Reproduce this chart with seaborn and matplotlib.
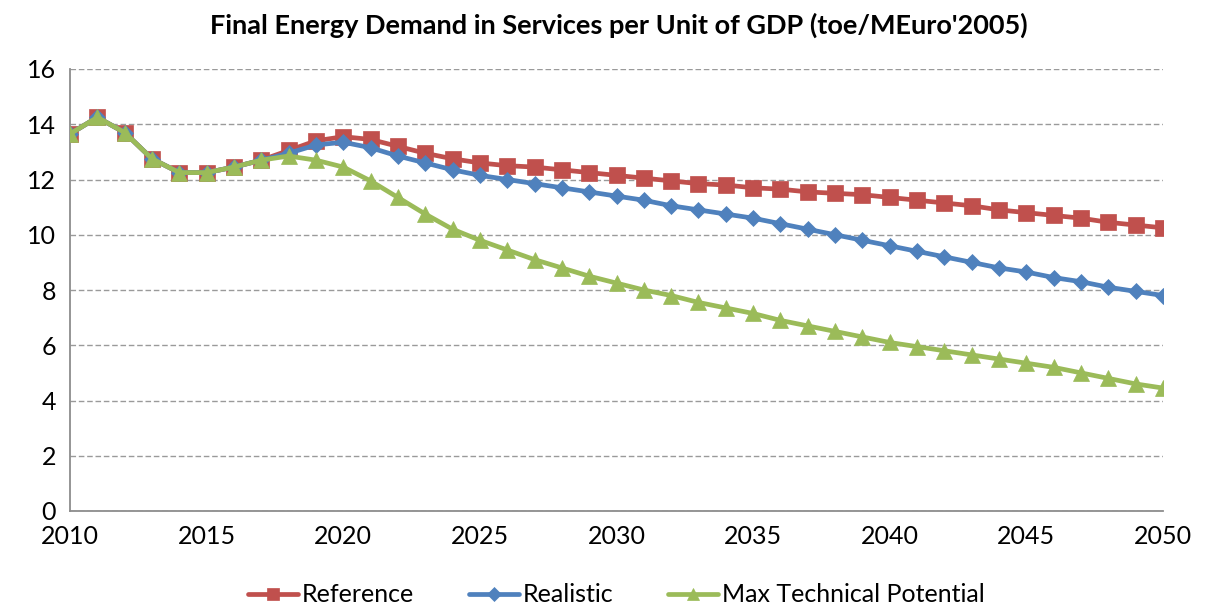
import numpy as np
import pandas as pd
import seaborn as sns
import matplotlib
matplotlib.use("Agg")
import matplotlib.pyplot as plt

years = list(range(2010, 2051))
reference = [13.65, 14.25, 13.7, 12.75, 12.25, 12.25, 12.45, 12.7, 13.05, 13.4,
             13.55, 13.45, 13.2, 12.95, 12.75, 12.6, 12.5, 12.45, 12.35, 12.25,
             12.15, 12.05, 11.95, 11.85, 11.8, 11.7, 11.65, 11.55, 11.5, 11.45,
             11.35, 11.25, 11.15, 11.05, 10.9, 10.8, 10.7, 10.6, 10.45, 10.35, 10.25]
realistic = [13.65, 14.25, 13.7, 12.75, 12.25, 12.25, 12.45, 12.7, 12.95, 13.25,
             13.35, 13.15, 12.85, 12.6, 12.35, 12.15, 12.0, 11.85, 11.7, 11.55,
             11.4, 11.25, 11.05, 10.9, 10.75, 10.6, 10.4, 10.2, 10.0, 9.8,
             9.6, 9.4, 9.2, 9.0, 8.8, 8.65, 8.45, 8.3, 8.1, 7.95, 7.8]
max_tech = [13.65, 14.25, 13.7, 12.75, 12.25, 12.25, 12.45, 12.7, 12.85, 12.7,
            12.45, 11.95, 11.35, 10.75, 10.2, 9.8, 9.45, 9.1, 8.8, 8.5,
            8.25, 8.0, 7.8, 7.55, 7.35, 7.15, 6.9, 6.7, 6.5, 6.3,
            6.1, 5.95, 5.8, 5.65, 5.5, 5.35, 5.2, 5.0, 4.8, 4.6, 4.45]
series_names = ["Reference", "Realistic", "Max Technical Potential"]
colors = ["#C0504D", "#4F81BD", "#9BBB59"]
markers = ["s", "D", "^"]
msizes = [11, 8.5, 11.5]

df = pd.DataFrame({"Year": years * 3,
                   "Value": reference + realistic + max_tech,
                   "Series": sum([[n] * len(years) for n in series_names], [])})

sns.set_theme(style="white")
plt.rcParams['font.family'] = ['Lato', 'DejaVu Sans']

fig = plt.figure(figsize=(12.07, 6.09), dpi=100)
ax = fig.add_axes([70 / 1207, 1 - 511 / 609, (1163 - 70) / 1207, (511 - 69) / 609])

for i, (name, c, m, ms) in enumerate(zip(series_names, colors, markers, msizes)):
    sub = df[df["Series"] == name]
    sns.lineplot(data=sub, x="Year", y="Value", ax=ax, color=c, marker=m,
                 markersize=ms, markeredgecolor=c, markeredgewidth=0.5,
                 linewidth=3.4, label=name, zorder=3 + i)

ax.set_xlim(2010, 2050)
ax.set_ylim(0, 16)
ax.set_xticks(range(2010, 2051, 5))
ax.set_yticks(range(0, 17, 2))
ax.yaxis.grid(True, linestyle=(0, (4, 2)), color="#9a9a9a", linewidth=1)
ax.xaxis.grid(False)
for s in ["top", "right"]:
    ax.spines[s].set_visible(False)
for s in ["left", "bottom"]:
    ax.spines[s].set_color("#8c8c8c")
    ax.spines[s].set_linewidth(1.3)
ax.tick_params(axis="both", labelsize=18, labelcolor="black", length=5,
               color="#8c8c8c", width=1.3, direction="out", pad=5)
ax.set_xlabel("")
ax.set_ylabel("")

fig.suptitle("Final Energy Demand in Services per Unit of GDP (toe/MEuro'2005)",
             x=0.513, y=1 - 25 / 609, fontsize=19.5, fontweight="bold", va="center",
             color="black")

ax.legend(loc="center", bbox_to_anchor=(0.5, -0.19), ncol=3, frameon=False,
          fontsize=18, handlelength=2.0, handletextpad=0.15, columnspacing=2.2,
          markerscale=0.8, labelcolor="black")

fig.savefig("out.png", dpi=100)
